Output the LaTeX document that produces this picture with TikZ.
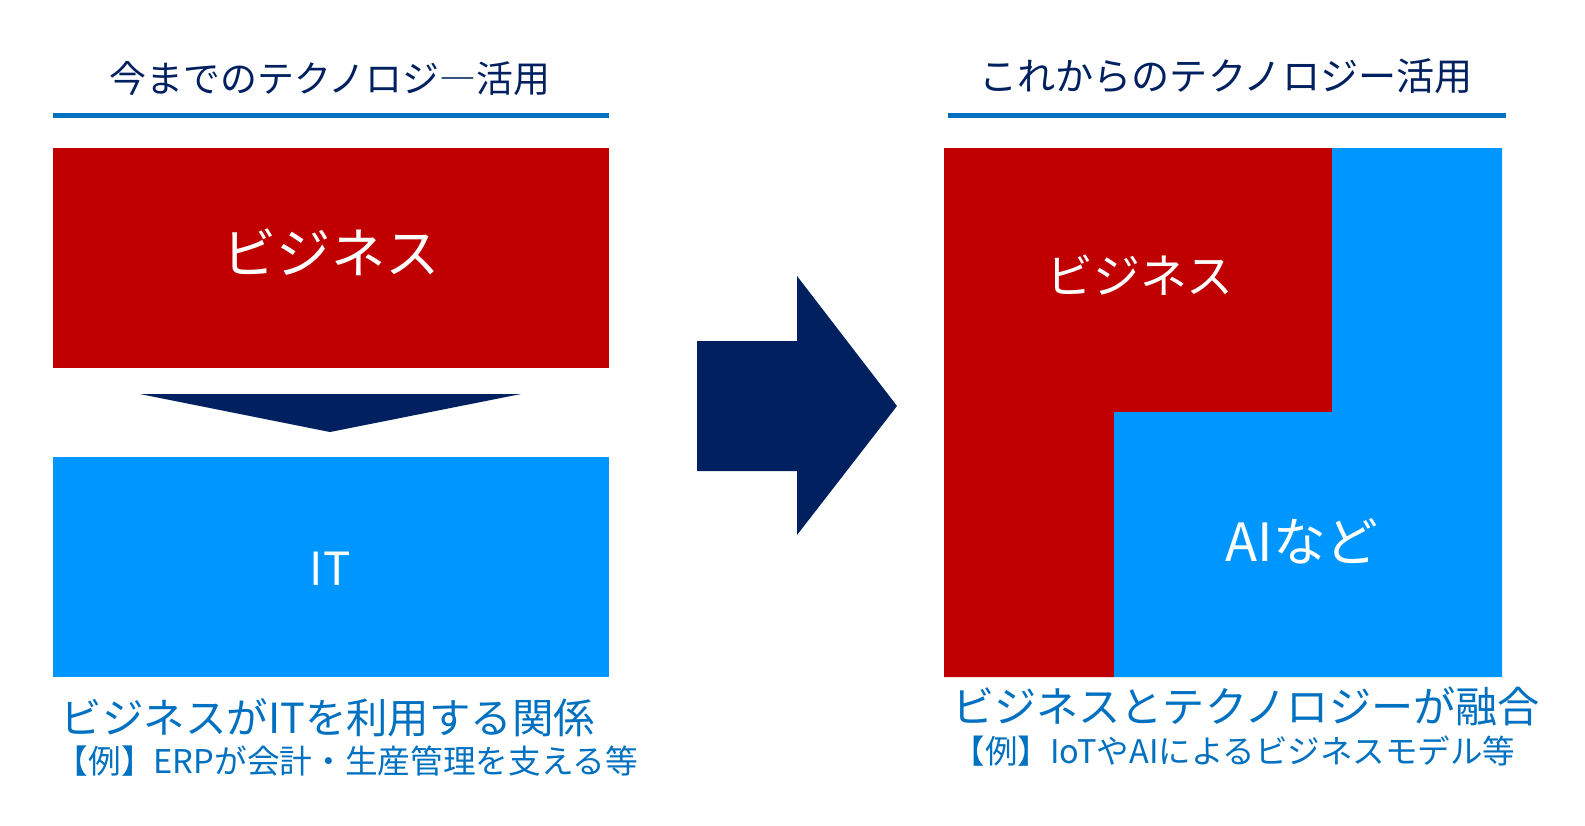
\documentclass[tikz,border=0pt]{standalone}
\usepackage{fontspec}
\setmainfont{Noto Sans CJK JP}
\usetikzlibrary{math}
\definecolor{myred}{RGB}{192,0,0}
\definecolor{myblue}{RGB}{0,150,255}
\definecolor{mynavy}{RGB}{0,32,96}
\definecolor{myline}{RGB}{0,112,192}
\newcommand{\fs}[1]{\fontsize{#1}{#1}\selectfont}

\begin{document}
\begin{tikzpicture}[x=0.02cm,y=-0.02cm,
  titletext/.style={text=mynavy,inner sep=0},
  boxtext/.style={text=white,inner sep=0},
  notetext/.style={text=myline,inner sep=0}]
\tikzmath{
\boxT=148;
\boxM=412;
\boxB=677;
\lL=53;
\lR=609;
\rL=944;
\rM=1114;
\rN=1332;
\rR=1502;
}
\useasboundingbox (0,0) rectangle (1585,825);

% left side
\fill[myline] (\lL,113) rectangle (\lR,117.5);
\node[titletext,font=\fs{21pt}] (oldtitle) at (330,79) {今までのテクノロジ―活用};
\fill[myred] (\lL,\boxT) rectangle (\lR,368);
\node[boxtext,font=\fs{30.9pt}] (oldbiz) at (331,252) {ビジネス};
\fill[mynavy] (140,394) -- (521,394) -- (330,432) -- cycle;
\fill[myblue] (\lL,457) rectangle (\lR,\boxB);
\node[boxtext,font=\fs{26pt}] (oldit) at (330,569) {IT};
\node[notetext,font=\fs{23.6pt}] (oldnote) at (328,718) {ビジネスがITを利用する関係};
\node[notetext,font=\fs{18.6pt}] (oldex) at (347,761) {【例】ERPが会計・生産管理を支える等};

% arrow
\fill[mynavy] (697,341) -- (797,341) -- (797,276) -- (897,406) -- (797,535) -- (797,471) -- (697,471) -- cycle;

% right side
\fill[myline] (948,113) rectangle (1506,117.5);
\node[titletext,font=\fs{21.7pt}] (newtitle) at (1226,76) {これからのテクノロジー活用};
\fill[myred] (\rL,\boxT) -- (\rN,\boxT) -- (\rN,\boxM) -- (\rM,\boxM) -- (\rM,\boxB) -- (\rL,\boxB) -- cycle;
\fill[myblue] (\rN,\boxT) -- (\rR,\boxT) -- (\rR,\boxB) -- (\rM,\boxB) -- (\rM,\boxM) -- (\rN,\boxM) -- cycle;
\node[boxtext,font=\fs{26.7pt}] (newbiz) at (1140,275) {ビジネス};
\node[boxtext,font=\fs{30pt}] (newai) at (1302,541) {AIなど};
\node[notetext,font=\fs{24pt}] (newnote) at (1246,706) {ビジネスとテクノロジーが融合};
\node[notetext,font=\fs{18.5pt}] (newex) at (1234,751) {【例】IoTやAIによるビジネスモデル等};
\end{tikzpicture}
\end{document}
